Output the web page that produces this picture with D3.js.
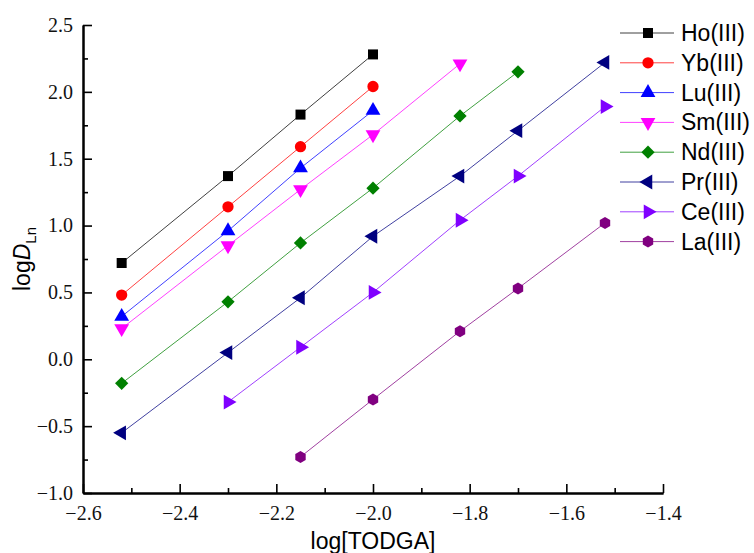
<!DOCTYPE html>
<html>
<head>
<meta charset="utf-8">
<script src="https://cdn.jsdelivr.net/npm/d3@7"></script>
<style>
  body { margin: 0; background: #fff; }
  svg { display: block; }
</style>
</head>
<body>
<div id="chart"></div>
<script>
// data
const xValues = [-2.52, -2.30, -2.15, -2.00, -1.82, -1.70, -1.52];

const hoValues = [0.72, 1.37, 1.83, 2.28];                    // x[0..3]
const ybValues = [0.48, 1.14, 1.59, 2.04];                    // x[0..3]
const luValues = [0.32, 0.96, 1.43, 1.86];                    // x[0..3]
const smValues = [0.23, 0.85, 1.27, 1.68, 2.21];              // x[0..4]
const ndValues = [-0.18, 0.43, 0.87, 1.28, 1.82, 2.15];       // x[0..5]
const prValues = [-0.55, 0.05, 0.46, 0.92, 1.37, 1.71, 2.22]; // x[0..6]
const ceValues = [-0.32, 0.09, 0.50, 1.04, 1.37, 1.89];       // x[1..6]
const laValues = [-0.73, -0.30, 0.21, 0.53, 1.02];            // x[2..6]

const seriesNames = ['Ho(III)', 'Yb(III)', 'Lu(III)', 'Sm(III)', 'Nd(III)', 'Pr(III)', 'Ce(III)', 'La(III)'];
const seriesStart = [0, 0, 0, 0, 0, 0, 1, 2];
const seriesValues = [hoValues, ybValues, luValues, smValues, ndValues, prValues, ceValues, laValues];
const seriesColors = ['#000000', '#ff0000', '#0000ff', '#ff00ff', '#008000', '#000080', '#8000ff', '#800080'];
const seriesMarkers = ['square', 'circle', 'up', 'down', 'diamond', 'left', 'right', 'hexagon'];

const xTicks = [-2.6, -2.4, -2.2, -2.0, -1.8, -1.6, -1.4];
const xMinor = [-2.5, -2.3, -2.1, -1.9, -1.7, -1.5];
const yTicks = [-1.0, -0.5, 0.0, 0.5, 1.0, 1.5, 2.0, 2.5];
const yMinor = [-0.75, -0.25, 0.25, 0.75, 1.25, 1.75, 2.25];

const W = 754, H = 553;
const m = { left: 83, right: 663, top: 25, bottom: 493 };
const serif = "'Liberation Serif', 'Times New Roman', serif";
const sans = "'Liberation Sans', Arial, sans-serif";

const svg = d3.select('#chart').append('svg')
  .attr('width', W).attr('height', H);

const x = d3.scaleLinear().domain([-2.6, -1.4]).range([m.left, m.right]);
const y = d3.scaleLinear().domain([-1.0, 2.5]).range([m.bottom, m.top]);

const fmt = v => d3.format('.1f')(v).replace('-', '\u2212');

// markers
function markerPath(kind) {
  if (kind === 'square') return d3.symbol(d3.symbolSquare, 100)();
  if (kind === 'circle') return d3.symbol(d3.symbolCircle, 100)();
  if (kind === 'diamond') return d3.symbol(d3.symbolSquare, 88)();
  if (kind === 'hexagon') {
    const r = 6;
    const pts = d3.range(6).map(i => {
      const a = Math.PI / 6 + i * Math.PI / 3;
      return [r * Math.cos(a), r * Math.sin(a)];
    });
    return 'M' + pts.map(p => p.join(',')).join('L') + 'Z';
  }
  return d3.symbol(d3.symbolTriangle, 95)();
}
function markerRotate(kind) {
  return { diamond: 45, down: 180, left: -90, right: 90 }[kind] || 0;
}

// axes: minor and major ticks in separate groups, all pointing inward
svg.append('g').attr('class', 'minor').attr('transform', `translate(0,${m.bottom})`)
  .call(d3.axisBottom(x).tickValues(xMinor).tickSizeInner(-5).tickSizeOuter(0).tickFormat(''));
const gx = svg.append('g').attr('transform', `translate(0,${m.bottom})`)
  .call(d3.axisBottom(x).tickValues(xTicks).tickSizeInner(-9).tickSizeOuter(0).tickFormat(fmt).tickPadding(13));

svg.append('g').attr('class', 'minor').attr('transform', `translate(${m.left},0)`)
  .call(d3.axisLeft(y).tickValues(yMinor).tickSizeInner(-5).tickSizeOuter(0).tickFormat(''));
const gy = svg.append('g').attr('transform', `translate(${m.left},0)`)
  .call(d3.axisLeft(y).tickValues(yTicks).tickSizeInner(-9).tickSizeOuter(0).tickFormat(fmt).tickPadding(10));

[gx, gy].forEach(g => g.attr('font-family', serif).attr('font-size', 20));
svg.selectAll('.domain').attr('stroke', '#000').attr('stroke-width', 2);
svg.selectAll('.tick line').attr('stroke', '#000').attr('stroke-width', 1.6);
svg.selectAll('.tick text').attr('fill', '#111');

// axis titles
svg.append('text')
  .attr('x', 373).attr('y', 549)
  .attr('text-anchor', 'middle')
  .attr('font-family', sans)
  .attr('font-size', 23)
  .text('log[TODGA]');

const yt = svg.append('text')
  .attr('transform', 'translate(30,291) rotate(-90)')
  .attr('font-family', sans)
  .attr('font-size', 23);
yt.append('tspan').text('log');
yt.append('tspan').attr('font-style', 'italic').text('D');
yt.append('tspan').attr('dy', 6).attr('font-size', 15).text('Ln');

// series
const line = d3.line().x(d => x(d[0])).y(d => y(d[1]));

seriesValues.forEach((vals, i) => {
  const pts = vals.map((v, j) => [xValues[seriesStart[i] + j], v]);
  const g = svg.append('g');
  g.append('path')
    .datum(pts)
    .attr('d', line)
    .attr('fill', 'none')
    .attr('stroke', seriesColors[i])
    .attr('stroke-opacity', 0.75)
    .attr('stroke-width', 1);
  g.selectAll('path.pt')
    .data(pts).join('path')
    .attr('class', 'pt')
    .attr('d', markerPath(seriesMarkers[i]))
    .attr('transform', d => `translate(${x(d[0])},${y(d[1])}) rotate(${markerRotate(seriesMarkers[i])})`)
    .attr('fill', seriesColors[i]);
});

// legend
const legend = svg.append('g');
seriesNames.forEach((name, i) => {
  const ly = 33 + i * 29.8;
  const g = legend.append('g').attr('transform', `translate(0,${ly})`);
  g.append('line')
    .attr('x1', 620).attr('x2', 674)
    .attr('stroke', seriesColors[i]).attr('stroke-opacity', 0.75).attr('stroke-width', 1);
  g.append('path')
    .attr('d', markerPath(seriesMarkers[i]))
    .attr('transform', `translate(648,0) rotate(${markerRotate(seriesMarkers[i])})`)
    .attr('fill', seriesColors[i]);
  g.append('text')
    .attr('x', 681).attr('y', 8)
    .attr('font-family', sans)
    .attr('font-size', 23)
    .text(name);
});
</script>
</body>
</html>
